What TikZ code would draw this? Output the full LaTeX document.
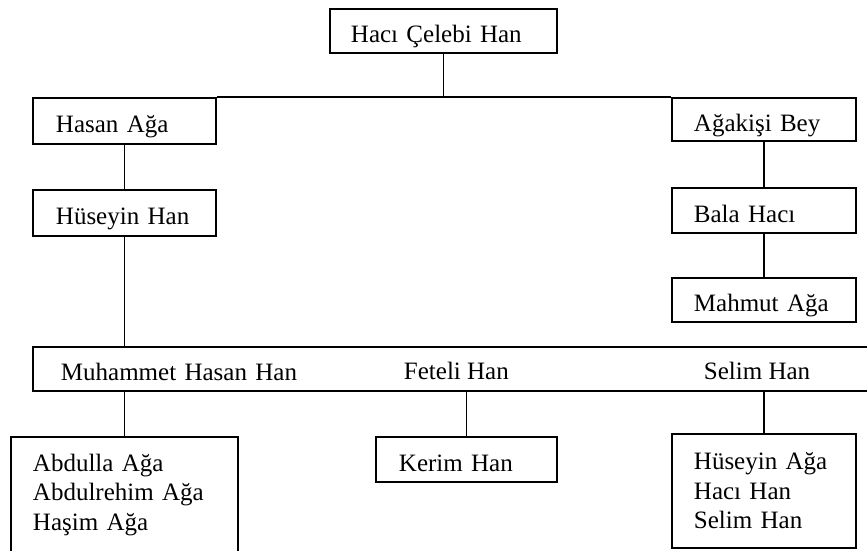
\documentclass[tikz,border=0pt]{standalone}
\usepackage{fontspec}
\setmainfont{Liberation Serif}
\begin{document}
\begin{tikzpicture}[x=1pt,y=-1pt,line width=1.9pt,
  every node/.style={font=\fontsize{25}{29.5}\selectfont},
  box/.style={draw, anchor=north west, align=left, inner ysep=0pt},
  one/.style={text height=24pt, text depth=0pt},
  plain/.style={anchor=base west, inner sep=0pt}]
\useasboundingbox (0,0) rectangle (867,550);
% top
\node[box, one, minimum width=227pt, minimum height=44pt, inner xsep=21pt, text width=185pt] (top) at (329,8) {Hacı Çelebi Han};
% left column
\node[box, one, minimum width=183pt, minimum height=46pt, inner xsep=23pt, text width=137pt] (hasan) at (32,97) {Hasan Ağa};
\node[box, one, minimum width=183pt, minimum height=46pt, inner xsep=23pt, text width=137pt] (huseyin) at (32,189) {Hüseyin Han};
% right column
\node[box, one, minimum width=184pt, minimum height=43pt, inner xsep=22pt, text width=140pt] (agakisi) at (671,97) {Ağakişi Bey};
\node[box, one, minimum width=184pt, minimum height=45pt, inner xsep=22pt, text width=140pt] (bala) at (671,187) {Bala Hacı};
\node[box, one, minimum width=184pt, minimum height=44pt, inner xsep=22pt, text width=140pt] (mahmut) at (671,277) {Mahmut Ağa};
% long bar
\node[box, one, minimum width=848pt, minimum height=44pt, inner xsep=28pt, text width=792pt] (bar) at (32,346) {Muhammet Hasan Han};
\node[plain] (feteli) at (403,379) {Feteli Han};
\node[plain] (selim) at (703,379) {Selim Han};
% bottom row
\node[box, minimum width=227pt, minimum height=116pt, inner xsep=22pt, text width=183pt] (abd) at (10,436) {Abdulla Ağa\\Abdulrehim Ağa\\Haşim Ağa};
\node[box, one, minimum width=181pt, minimum height=45pt, inner xsep=23pt, text width=135pt] (kerim) at (375,436) {Kerim Han};
\node[box, minimum width=184pt, minimum height=114pt, inner xsep=22pt, text width=140pt] (selimbox) at (671,433) {Hüseyin Ağa\\Hacı Han\\Selim Han};
% connectors
\draw (top.south) -- (top.south |- hasan.north);
\draw (hasan.north east) -- (agakisi.north west);
\draw (hasan.south) -- (huseyin.north);
\draw (huseyin.south) -- (huseyin.south |- bar.north);
\draw (agakisi.south) -- (bala.north);
\draw (bala.south) -- (mahmut.north);
\draw (abd.north) -- (abd.north |- bar.south);
\draw (kerim.north) -- (kerim.north |- bar.south);
\draw (selimbox.north) -- (selimbox.north |- bar.south);
\end{tikzpicture}
\end{document}
